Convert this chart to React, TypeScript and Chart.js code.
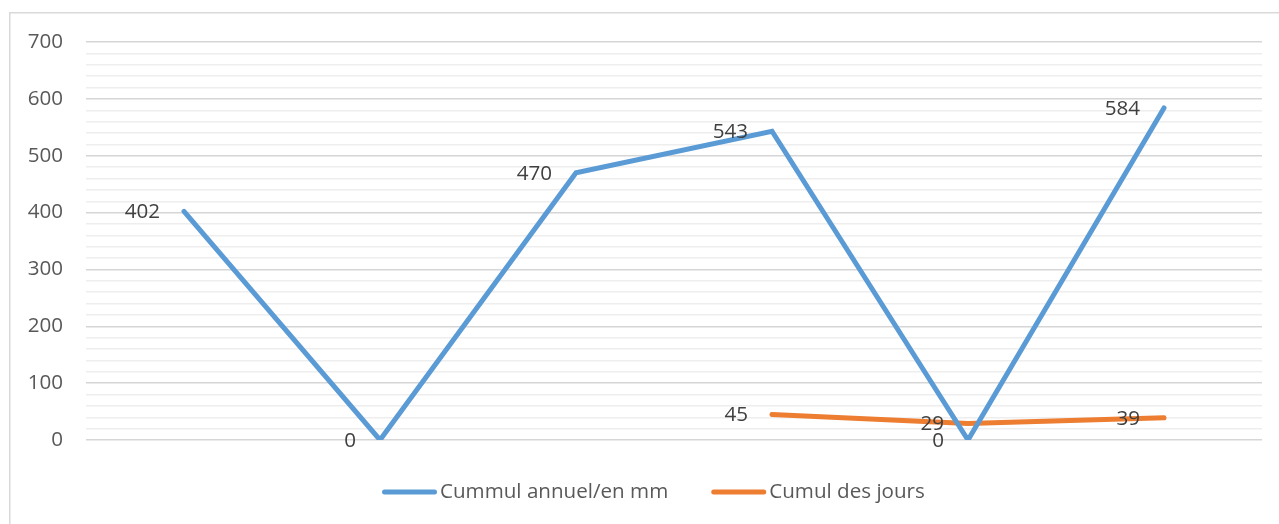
import React, { useEffect, useRef } from "react";
import { Chart, registerables } from "chart.js";

Chart.register(...registerables);

const categories = ["", "", "", "", "", ""];
const cumulAnnuel = [402, 0, 470, 543, 0, 584];
const cumulJours = [null, null, null, 45, 29, 39];
const seriesNames = ["Cummul annuel/en mm", "Cumul des jours"];
const seriesColors = ["#5b9bd5", "#ed7d31"];
const yMin = 0;
const yMax = 700;
const yMinorStep = 20;
const yMajorStep = 100;

const FONT = "'Open Sans', 'DejaVu Sans', sans-serif";
const FSIZE = 20.6;

const framePlugin = {
  id: "frame",
  beforeDraw(chart: any) {
    const ctx = chart.ctx;
    ctx.save();
    ctx.fillStyle = "#ffffff";
    ctx.fillRect(0, 0, chart.width, chart.height);
    ctx.strokeStyle = "#d9d9d9";
    ctx.lineWidth = 1.5;
    ctx.strokeRect(9.75, 12.75, chart.width + 50, chart.height + 50);
    ctx.restore();
  },
};

const labelsPlugin = {
  id: "dataLabels",
  afterDatasetsDraw(chart: any) {
    const ctx = chart.ctx;
    ctx.save();
    ctx.font = `${FSIZE}px ${FONT}`;
    ctx.fillStyle = "#404040";
    ctx.textAlign = "right";
    ctx.textBaseline = "middle";
    chart.data.datasets.forEach((ds: any, i: number) => {
      const meta = chart.getDatasetMeta(i);
      meta.data.forEach((pt: any, j: number) => {
        const v = ds.data[j];
        if (v === null || v === undefined) return;
        ctx.fillText(String(v), pt.x - 24, pt.y + 1);
      });
    });
    ctx.restore();
  },
};

const legendPlugin = {
  id: "customLegend",
  afterDraw(chart: any) {
    const ctx = chart.ctx;
    ctx.save();
    ctx.font = `${FSIZE}px ${FONT}`;
    ctx.textBaseline = "middle";
    ctx.textAlign = "left";
    const y = 492;
    let x = 382;
    chart.data.datasets.forEach((ds: any) => {
      ctx.strokeStyle = ds.borderColor;
      ctx.lineWidth = 5;
      ctx.lineCap = "round";
      ctx.beginPath();
      ctx.moveTo(x + 2.5, y);
      ctx.lineTo(x + 52.5, y);
      ctx.stroke();
      ctx.fillStyle = "#595959";
      const tx = x + 58;
      ctx.fillText(ds.label, tx, y);
      x = tx + ctx.measureText(ds.label).width + 43;
    });
    ctx.restore();
  },
};

export default function App() {
  const ref = useRef<HTMLCanvasElement | null>(null);

  useEffect(() => {
    document.body.style.margin = "0";
    document.body.style.overflow = "hidden";
    document.documentElement.style.overflow = "hidden";
    const canvas = ref.current;
    if (!canvas) return;
    const chart = new Chart(canvas, {
      type: "line",
      data: {
        labels: categories,
        datasets: [
          {
            label: seriesNames[0],
            data: cumulAnnuel,
            borderColor: seriesColors[0],
            backgroundColor: seriesColors[0],
            borderWidth: 5,
            borderCapStyle: "round",
            pointRadius: 0,
            pointHoverRadius: 0,
            tension: 0,
          },
          {
            label: seriesNames[1],
            data: cumulJours,
            borderColor: seriesColors[1],
            backgroundColor: seriesColors[1],
            borderWidth: 5,
            borderCapStyle: "round",
            pointRadius: 0,
            pointHoverRadius: 0,
            tension: 0,
            spanGaps: false,
          },
        ],
      } as any,
      options: {
        animation: false,
        responsive: false,
        devicePixelRatio: 1,
        layout: { padding: { left: 0, right: 17, top: 42, bottom: 84 } },
        plugins: {
          legend: { display: false },
          tooltip: { enabled: false },
        },
        scales: {
          x: {
            display: false,
            offset: true,
          },
          y: {
            min: yMin,
            max: yMax,
            border: { display: false },
            grid: {
              drawTicks: false,
              lineWidth: 1.4,
              color: (c: any) =>
                Math.round(c.tick.value) % yMajorStep === 0 ? "#d6d6d6" : "#eeeeee",
            },
            ticks: {
              stepSize: yMinorStep,
              autoSkip: false,
              padding: 23,
              color: "#595959",
              font: { family: FONT, size: FSIZE },
              callback: (v: any) =>
                Math.round(Number(v)) % yMajorStep === 0 ? String(Math.round(Number(v))) : "",
            },
            afterFit: (s: any) => {
              s.width = 86;
            },
          },
        },
      } as any,
      plugins: [framePlugin, labelsPlugin, legendPlugin],
    });
    return () => chart.destroy();
  }, []);

  return (
    <canvas
      ref={ref}
      width={1279}
      height={524}
      style={{ display: "block", width: 1279, height: 524 }}
    />
  );
}
